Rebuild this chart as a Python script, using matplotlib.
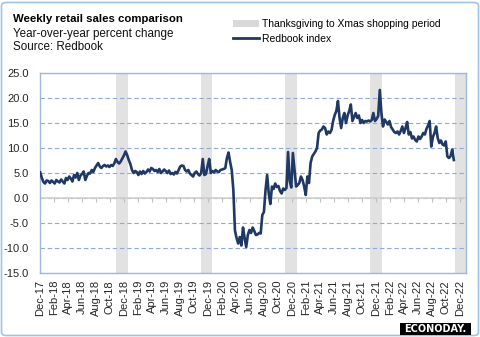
import numpy as np
import pandas as pd
import matplotlib
matplotlib.use("Agg")
import matplotlib.pyplot as plt
from matplotlib.patches import Patch, Rectangle, FancyBboxPatch
from matplotlib.lines import Line2D

# weekly Redbook index, y/y percent change, weeks ending on Saturday
first_week = "2017-12-02"
redbook = [
    5.1, 4.0, 3.2, 2.9, 3.5, 3.4, 3.0, 3.5, 3.2, 2.9,
    3.6, 3.3, 3.1, 3.7, 3.3, 2.9, 4.0, 3.6, 4.3, 3.9,
    3.3, 4.6, 4.1, 5.0, 3.6, 4.5, 4.8, 5.3, 3.6, 4.4,
    5.0, 4.9, 5.6, 5.2, 6.0, 6.5, 7.0, 6.3, 6.0, 6.4,
    6.6, 6.3, 6.5, 6.2, 6.6, 6.4, 6.9, 7.8, 7.2, 6.9,
    7.3, 7.9, 8.5, 9.3, 8.6, 7.6, 6.8, 5.6, 5.0, 5.4,
    5.2, 4.6, 5.3, 4.8, 5.4, 4.9, 5.2, 5.7, 5.3, 6.0,
    5.8, 5.4, 5.6, 5.2, 5.8, 5.0, 5.3, 5.7, 5.4, 5.0,
    5.5, 4.8, 5.0, 4.7, 5.2, 4.9, 5.6, 6.3, 6.5, 6.4,
    5.6, 5.3, 5.6, 4.9, 4.6, 4.3, 5.0, 5.3, 4.8, 4.5,
    5.0, 7.8, 4.6, 4.8, 6.4, 7.8, 5.0, 5.4, 5.1, 5.6,
    5.3, 5.2, 5.6, 5.7, 5.8, 6.0, 8.0, 9.1, 7.2, 5.6,
    1.6, -6.5, -8.0, -9.1, -7.8, -9.5, -5.9, -8.0, -9.8, -7.4,
    -6.4, -7.0, -5.9, -6.6, -7.4, -7.3, -7.0, -7.1, -3.4, -2.8,
    1.6, 4.6, 0.9, -1.2, 2.3, 1.8, 2.9, 2.2, 2.4, 1.4,
    0.9, 1.9, 1.6, 2.0, 9.2, 3.4, 2.1, 9.0, 5.6, 2.3,
    2.6, 3.0, 4.3, 3.6, 2.3, 0.6, 4.3, 3.0, 7.0, 8.3,
    8.8, 9.3, 10.0, 13.0, 13.5, 13.7, 14.3, 14.0, 12.7, 13.3,
    13.0, 13.6, 15.4, 16.6, 17.4, 19.4, 16.0, 14.0, 16.0, 17.0,
    15.0, 16.5, 17.4, 18.7, 15.4, 16.2, 17.0, 16.0, 16.5, 15.0,
    15.6, 15.0, 15.4, 15.3, 15.5, 15.3, 15.6, 17.0, 15.4, 15.8,
    16.4, 21.6, 17.0, 14.3, 15.7, 15.2, 14.7, 15.4, 14.2, 13.7,
    13.2, 13.0, 13.3, 12.7, 13.4, 14.3, 13.0, 14.0, 15.2, 12.7,
    13.2, 11.9, 12.3, 11.6, 11.3, 12.3, 11.8, 12.3, 13.0, 12.7,
    13.8, 14.5, 15.4, 10.3, 12.2, 13.0, 14.3, 12.0, 11.0, 11.5,
    10.7, 10.5, 11.3, 8.3, 8.0, 8.4, 9.7, 7.6,
]

# shaded holiday shopping windows as drawn on the chart
shade_start = ["2018-10-28", "2019-11-02", "2020-11-01", "2021-11-06", "2022-11-10"]
shade_end = ["2018-12-18", "2019-12-19", "2020-12-22", "2021-12-26", "2022-12-31"]

y_ticks = [-15, -10, -5, 0, 5, 10, 15, 20, 25]
x_first_tick = "2017-12-01"
x_last_tick = "2022-12-01"

NAVY = "#1f3864"
GRID = "#8eaadb"
BORDER = "#9db9de"
SHADE = "#e2e2e2"
TXT = "#262626"

plt.rcParams["font.family"] = ["Liberation Sans", "DejaVu Sans"]

W, H = 481, 337
fig = plt.figure(figsize=(W / 100, H / 100), dpi=100)
ax = fig.add_axes([40 / W, 1 - 273 / H, 426 / W, 200 / H])

dates = pd.date_range(first_week, periods=len(redbook), freq="7D")

for s, e in zip(shade_start, shade_end):
    ax.axvspan(pd.Timestamp(s), pd.Timestamp(e), color=SHADE, lw=0, zorder=0)

ax.set_ylim(-15, 25)
ax.set_xlim(pd.Timestamp("2017-12-01"), pd.Timestamp("2022-12-28"))

ax.set_yticks(y_ticks)
ax.set_yticklabels([f"{v:.1f}" for v in y_ticks], fontsize=8, color=TXT)
ax.grid(axis="y", color=GRID, lw=0.8, linestyle=(0, (4, 2.5)), zorder=1)
ax.axhline(0, color="#d0d0d0", lw=1.2, zorder=2)

tick_dates = pd.date_range(x_first_tick, x_last_tick, freq="2MS")
ax.set_xticks(tick_dates)
ax.set_xticklabels([d.strftime("%b-%y") for d in tick_dates], rotation=90,
                   fontsize=8, color=TXT)
ax.tick_params(axis="both", length=0)
ax.tick_params(axis="y", pad=8)
ax.tick_params(axis="x", pad=5)
# small tick marks hanging from the zero line
ax.plot(tick_dates, np.zeros(len(tick_dates)), ls="none", marker=3, ms=3,
        mew=0.8, color="#bfbfbf", zorder=2, clip_on=False)

ax.plot(dates, redbook, color=NAVY, lw=1.9, zorder=3, solid_joinstyle="round")

for sp in ax.spines.values():
    sp.set_color(BORDER)
    sp.set_linewidth(1.0)

# titles
fig.text(13 / W, 1 - 19.5 / H, "Weekly retail sales comparison", fontsize=8.2,
         fontweight="bold", color="black", va="center")
fig.text(13 / W, 1 - 33.5 / H, "Year-over-year percent change", fontsize=8.4,
         color="#111111", va="center")
fig.text(13 / W, 1 - 47.5 / H, "Source: Redbook", fontsize=8.4,
         color="#111111", va="center")

handles = [Patch(facecolor="#d9d9d9", edgecolor="none"),
           Line2D([], [], color=NAVY, lw=2)]
labels = ["Thanksgiving to Xmas shopping period", "Redbook index"]
fig.legend(handles, labels, loc="upper left",
           bbox_to_anchor=(233 / W, 1 - 19 / H), frameon=False, fontsize=7.5,
           handlelength=2.5, handleheight=0.7, handletextpad=0.3,
           labelspacing=0.45, borderpad=0, borderaxespad=0)

# outer frame
fig.patches.append(FancyBboxPatch((1.5 / W, 1.5 / H), (W - 4) / W, (H - 4) / H,
                                  boxstyle="round,pad=0,rounding_size=0.01",
                                  transform=fig.transFigure, fill=False,
                                  edgecolor="#9dc3e6", lw=1.2))

# Econoday badge
fig.patches.append(Rectangle((400 / W, 1 - 335 / H), 71 / W, 12 / H,
                             transform=fig.transFigure, facecolor="black",
                             edgecolor="none"))
fig.text(435.5 / W, 1 - 329 / H, "ECONODAY.", color="white", fontsize=7,
         fontweight="bold", family="DejaVu Sans", ha="center", va="center")

fig.savefig("out.png", dpi=100)
